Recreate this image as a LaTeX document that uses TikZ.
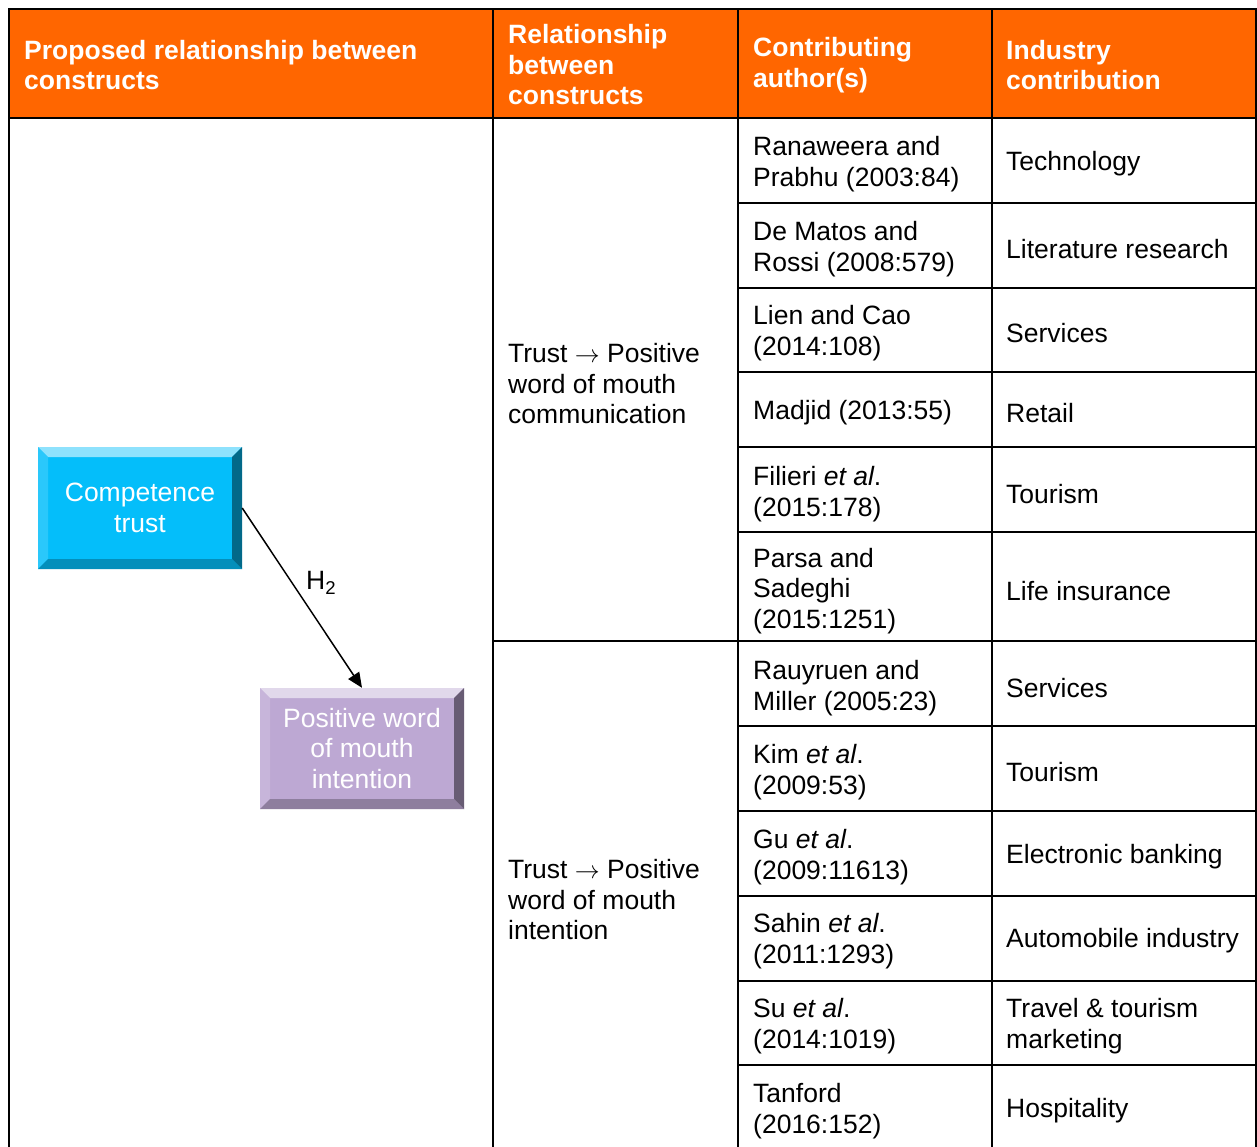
\documentclass[tikz,border=0pt]{standalone}
\usepackage{fontspec}
\setmainfont{Liberation Sans}
\usetikzlibrary{arrows.meta}
\definecolor{headorange}{RGB}{255,102,0}
\definecolor{compblue}{RGB}{4,190,250}
\definecolor{wompurple}{RGB}{189,168,211}
\newcommand{\relarrow}{\ensuremath{\rightarrow}}

\begin{document}
\begin{tikzpicture}[x=1pt,y=-1pt,
  gridline/.style={line width=2.2pt, black},
  headtext/.style={anchor=west, align=left, inner sep=0pt, text=white, yshift=-1pt,
    font=\fontsize{26.5}{30.5}\selectfont\bfseries},
  celltext/.style={anchor=west, align=left, inner sep=0pt, yshift=-3pt,
    font=\fontsize{26.5}{30.5}\selectfont},
  bevelbox/.style={rectangle, fill=#1, minimum width=204pt, minimum height=122pt,
    inner sep=0pt, text=white, align=center,
    font=\fontsize{26.5}{30.5}\selectfont,
    path picture={
      % top bevel
      \fill[#1!45!white] (path picture bounding box.north west)
        -- (path picture bounding box.north east)
        -- ([shift={(-10pt,-10pt)}]path picture bounding box.north east)
        -- ([shift={(10pt,-10pt)}]path picture bounding box.north west) -- cycle;
      % left bevel
      \fill[#1!85!white] (path picture bounding box.north west)
        -- ([shift={(10pt,-10pt)}]path picture bounding box.north west)
        -- ([shift={(10pt,10pt)}]path picture bounding box.south west)
        -- (path picture bounding box.south west) -- cycle;
      % right bevel
      \fill[#1!55!black] (path picture bounding box.north east)
        -- ([shift={(-10pt,-10pt)}]path picture bounding box.north east)
        -- ([shift={(-10pt,10pt)}]path picture bounding box.south east)
        -- (path picture bounding box.south east) -- cycle;
      % bottom bevel
      \fill[#1!75!black] (path picture bounding box.south west)
        -- ([shift={(10pt,10pt)}]path picture bounding box.south west)
        -- ([shift={(-10pt,10pt)}]path picture bounding box.south east)
        -- (path picture bounding box.south east) -- cycle;
    }},
  link/.style={line width=1.5pt, -{Triangle[length=15pt,width=13pt]}}
]
\clip (0,0) rectangle (1257,1146);
\fill[white] (0,0) rectangle (1257,1146);

% header band
\fill[headorange] (9,9) rectangle (1256,118);

% table rules
\draw[gridline] (9,1170) -- (9,9) -- (1256,9) -- (1256,1170);
\draw[gridline] (9,118) -- (1256,118);
\foreach \cx in {493,738,992} \draw[gridline] (\cx,9) -- (\cx,1170);
\draw[gridline] (493,641) -- (1256,641);
\foreach \ry in {203,288,372,447,532,726,811,896,981,1065}
  \draw[gridline] (738,\ry) -- (1256,\ry);

% header texts
\node[headtext] (h1) at (24,64) {Proposed relationship between\\constructs};
\node[headtext] (h2) at (508,64) {Relationship\\between\\constructs};
\node[headtext] (h3) at (753,64) {Contributing\\author(s)};
\node[headtext] (h4) at (1006,64) {Industry\\contribution};

% relationship column
\node[celltext] (r1) at (508,381) {Trust \relarrow{} Positive\\word of mouth\\communication};
\node[celltext] (r2) at (508,897) {Trust \relarrow{} Positive\\word of mouth\\intention};

% authors and industries
\node[celltext] (a1)  at (753,161)  {Ranaweera and\\Prabhu (2003:84)};
\node[celltext] (i1)  at (1006,161) {Technology};
\node[celltext] (a2)  at (753,246)  {De Matos and\\Rossi (2008:579)};
\node[celltext] (i2)  at (1006,246) {Literature research};
\node[celltext] (a3)  at (753,330)  {Lien and Cao\\(2014:108)};
\node[celltext] (i3)  at (1006,330) {Services};
\node[celltext] (a4)  at (753,410)  {Madjid (2013:55)};
\node[celltext] (i4)  at (1006,410) {Retail};
\node[celltext] (a5)  at (753,491)  {Filieri \textit{et al}.\\(2015:178)};
\node[celltext] (i5)  at (1006,491) {Tourism};
\node[celltext] (a6)  at (753,588)  {Parsa and\\Sadeghi\\(2015:1251)};
\node[celltext] (i6)  at (1006,588) {Life insurance};
\node[celltext] (a7)  at (753,685)  {Rauyruen and\\Miller (2005:23)};
\node[celltext] (i7)  at (1006,685) {Services};
\node[celltext] (a8)  at (753,769)  {Kim \textit{et al}.\\(2009:53)};
\node[celltext] (i8)  at (1006,769) {Tourism};
\node[celltext] (a9)  at (753,854)  {Gu \textit{et al}.\\(2009:11613)};
\node[celltext] (i9)  at (1006,854) {Electronic banking};
\node[celltext] (a10) at (753,938)  {Sahin \textit{et al}.\\(2011:1293)};
\node[celltext] (i10) at (1006,938) {Automobile industry};
\node[celltext] (a11) at (753,1023) {Su \textit{et al}.\\(2014:1019)};
\node[celltext] (i11) at (1006,1023) {Travel \& tourism\\marketing};
\node[celltext] (a12) at (753,1108) {Tanford\\(2016:152)};
\node[celltext] (i12) at (1006,1108) {Hospitality};

% construct model
\node[bevelbox=compblue] (ct) at (140,508) {Competence\\trust};
\node[bevelbox=wompurple, minimum height=121pt] (wom) at (362,748.5) {Positive word\\of mouth\\intention};
\draw[link] (ct.east) -- (wom.north);
\node[font=\fontsize{26.5}{30}\selectfont, inner sep=0pt, anchor=west] (h2lbl) at (306,583) {H\textsubscript{2}};
\end{tikzpicture}
\end{document}
